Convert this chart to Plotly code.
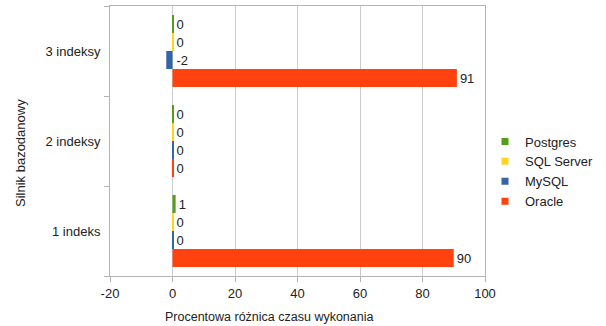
import plotly.graph_objects as go

categories = ["1 indeks", "2 indeksy", "3 indeksy"]
series_names = ["Postgres", "SQL Server", "MySQL", "Oracle"]
postgres = [1, 0, 0]
sqlserver = [0, 0, 0]
mysql = [0, 0, -2]
oracle = [90, 0, 91]
x_ticks = [-20, 0, 20, 40, 60, 80, 100]

colors = {"Postgres": "#579d1c", "SQL Server": "#ffd320", "MySQL": "#3465a4", "Oracle": "#ff420e"}
offsets = {"Postgres": 0.2, "SQL Server": 0.0, "MySQL": -0.2, "Oracle": -0.4}
values = {"Postgres": postgres, "SQL Server": sqlserver, "MySQL": mysql, "Oracle": oracle}

FONT = "Liberation Sans, Arial, sans-serif"
TXT = "#222222"
HAIR = 0.3  # minimal drawn length so zero values show as hairlines

fig = go.Figure()
for name in series_names:
    vals = values[name]
    vis = [v if v != 0 else HAIR for v in vals]
    fig.add_trace(go.Bar(
        y=categories, x=vis, orientation="h", name=name,
        marker=dict(color=colors[name], line=dict(width=0)),
        offset=offsets[name], width=0.2, showlegend=False, hoverinfo="skip",
    ))
    fig.add_trace(go.Bar(
        y=categories, x=[max(v, HAIR) for v in vals], orientation="h",
        marker=dict(color="rgba(0,0,0,0)", line=dict(width=0)),
        offset=offsets[name], width=0.2, showlegend=False,
        text=[str(v) for v in vals], textposition="outside",
        textfont=dict(family=FONT, size=13, color=TXT), cliponaxis=False,
        hoverinfo="skip",
    ))

for name in series_names:
    fig.add_trace(go.Scatter(
        x=[None], y=[None], mode="markers", name=name,
        marker=dict(symbol="square", size=7, color=colors[name]),
    ))

fig.update_layout(
    width=606, height=326,
    margin=dict(l=110, r=121, t=6, b=50),
    barmode="overlay",
    paper_bgcolor="white", plot_bgcolor="white",
    font=dict(family=FONT, size=13, color=TXT),
    legend=dict(x=1.0, xanchor="left", y=0.387, yanchor="middle",
                font=dict(family=FONT, size=13, color=TXT),
                itemwidth=30, tracegroupgap=0, bgcolor="rgba(0,0,0,0)"),
    xaxis=dict(range=[-20, 100], tickvals=x_ticks, ticktext=[str(v) for v in x_ticks],
               showgrid=True, gridcolor="#cccccc", gridwidth=1, zeroline=True,
               zerolinecolor="#cccccc", zerolinewidth=1, showline=True,
               linecolor="#b3b3b3", mirror=True,
               ticks="outside", ticklen=5, tickcolor="#b3b3b3",
               tickfont=dict(family=FONT, size=13, color=TXT)),
    yaxis=dict(type="category", categoryorder="array", categoryarray=categories,
               range=[-0.5, 2.5], showgrid=False, zeroline=False, showline=True,
               linecolor="#b3b3b3", mirror=True, ticks="outside", ticklen=5,
               tickcolor="#b3b3b3", tickson="boundaries", ticklabelstandoff=6,
               tickfont=dict(family=FONT, size=13, color=TXT)),
    annotations=[
        dict(text="Procentowa różnica czasu wykonania", xref="paper", yref="paper",
             x=0.425, y=-0.152, xanchor="center", yanchor="middle", showarrow=False,
             font=dict(family=FONT, size=12.5, color=TXT)),
        dict(text="Silnik bazodanowy", xref="paper", yref="paper", textangle=-90,
             x=-0.2373, y=0.4556, xanchor="center", yanchor="middle", showarrow=False,
             font=dict(family=FONT, size=13, color=TXT)),
    ],
)

fig.write_html("out.html")
